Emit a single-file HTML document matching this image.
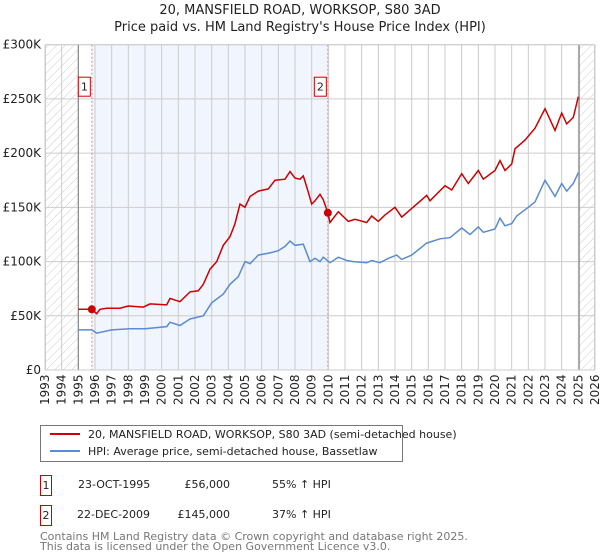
<!DOCTYPE html>
<html><head><meta charset="utf-8"><style>
body{margin:0;background:#fff;font-family:"DejaVu Sans","Liberation Sans",sans-serif;}
svg{display:block}
</style></head><body>
<svg id="c" width="600" height="560" xmlns="http://www.w3.org/2000/svg" font-family="DejaVu Sans, Liberation Sans, sans-serif">
<defs><pattern id="hatch" width="6" height="6" patternUnits="userSpaceOnUse" patternTransform="rotate(45)"><line x1="0" y1="0" x2="0" y2="6" stroke="#ccc" stroke-width="1"/></pattern></defs>
<text x="300" y="14" text-anchor="middle" font-size="13" fill="#222">20, MANSFIELD ROAD, WORKSOP, S80 3AD</text>
<text x="300" y="31" text-anchor="middle" font-size="13" fill="#222">Price paid vs. HM Land Registry's House Price Index (HPI)</text>
<g id="plot"></g>
<g>
<rect x="40.5" y="425.5" width="362" height="36" fill="#fff" stroke="#777"/>
<line x1="50" y1="434" x2="80" y2="434" stroke="#cc0000" stroke-width="2"/>
<text x="88" y="438" font-size="11" fill="#222">20, MANSFIELD ROAD, WORKSOP, S80 3AD (semi-detached house)</text>
<line x1="50" y1="451" x2="80" y2="451" stroke="#5b8bd0" stroke-width="2"/>
<text x="88" y="455" font-size="11" fill="#222">HPI: Average price, semi-detached house, Bassetlaw</text>
</g>
<g font-size="11" fill="#222">
<rect x="40.5" y="475.5" width="11" height="20" fill="#fff" stroke="#cc0000"/>
<text x="46" y="489" text-anchor="middle">1</text>
<text x="78" y="488">23-OCT-1995</text>
<text x="230" y="488" text-anchor="end">£56,000</text>
<text x="272" y="488">55% ↑ HPI</text>
<rect x="40.5" y="505.5" width="11" height="20" fill="#fff" stroke="#cc0000"/>
<text x="46" y="519" text-anchor="middle">2</text>
<text x="77" y="518">22-DEC-2009</text>
<text x="230" y="518" text-anchor="end">£145,000</text>
<text x="272" y="518">37% ↑ HPI</text>
</g>
<text x="40" y="540" font-size="11" fill="#777">Contains HM Land Registry data © Crown copyright and database right 2025.</text>
<text x="40" y="550" font-size="11" fill="#777">This data is licensed under the Open Government Licence v3.0.</text>
</svg>
<script>
const yTicks=[0,50,100,150,200,250,300];
const yTickLabels=["£0","£50K","£100K","£150K","£200K","£250K","£300K"];
const xYears=[1993,1994,1995,1996,1997,1998,1999,2000,2001,2002,2003,2004,2005,2006,2007,2008,2009,2010,2011,2012,2013,2014,2015,2016,2017,2018,2019,2020,2021,2022,2023,2024,2025,2026];
const redYears=[1995.0,1995.81,1996.1,1996.3,1996.7,1997.5,1998.0,1998.9,1999.3,2000.3,2000.5,2001.1,2001.7,2002.2,2002.5,2002.9,2003.3,2003.7,2004.1,2004.4,2004.7,2005.0,2005.3,2005.8,2006.4,2006.8,2007.4,2007.7,2008.0,2008.3,2008.5,2008.8,2009.0,2009.2,2009.5,2009.7,2009.97,2010.1,2010.6,2011.2,2011.6,2012.3,2012.6,2013.0,2013.4,2014.0,2014.4,2015.0,2015.9,2016.1,2017.0,2017.4,2018.0,2018.4,2019.0,2019.3,2020.0,2020.3,2020.6,2021.0,2021.2,2021.8,2022.4,2023.0,2023.6,2024.0,2024.3,2024.7,2025.0];
const redValues=[56,56,52,56,57,57,59,58,61,60,66,63,72,73,79,93,100,115,123,135,153,150,160,165,167,175,176,183,177,176,179,164,153,156,162,157,145,136,146,137,139,136,142,137,143,150,141,149,161,156,170,166,181,172,184,176,184,193,184,190,204,212,223,241,221,237,227,233,252];
const hpiYears=[1995.0,1995.8,1996.1,1997.0,1998.0,1999.0,2000.3,2000.5,2001.1,2001.7,2002.5,2003.0,2003.7,2004.1,2004.6,2005.0,2005.3,2005.8,2006.5,2007.0,2007.4,2007.7,2008.0,2008.5,2008.9,2009.2,2009.5,2009.7,2010.1,2010.6,2011.1,2011.5,2012.3,2012.6,2013.1,2013.6,2014.1,2014.4,2015.0,2015.9,2016.7,2017.3,2018.0,2018.5,2019.0,2019.3,2020.0,2020.3,2020.6,2021.0,2021.3,2022.0,2022.4,2023.0,2023.6,2024.0,2024.3,2024.7,2025.0];
const hpiValues=[37,37,34,37,38,38,40,44,41,47,50,62,70,79,86,100,98,106,108,110,114,119,115,116,100,103,100,104,99,104,101,100,99,101,99,103,106,102,106,117,121,122,131,125,132,127,130,140,133,135,142,150,155,175,160,172,165,172,182];
const saleYears=[1995.81,2009.97];
const saleValues=[56,145];
const saleLabels=["1","2"];

const NS="http://www.w3.org/2000/svg";
const L=45,R=595,T=44.7,B=370;
const xS=y=>L+(y-1993)/(2026-1993)*(R-L);
const yS=v=>B-v/300*(B-T);
const g=document.getElementById('plot');
function el(t,a){const e=document.createElementNS(NS,t);for(const k in a)e.setAttribute(k,a[k]);g.appendChild(e);return e;}
let e;
e=el('rect',{x:L,y:T,width:R-L,height:B-T,fill:'#fff'});


e=el('rect',{x:L,y:T,width:xS(1995)-L,height:B-T,fill:'url(#hatch)'});


e=el('rect',{x:xS(2025.05),y:T,width:R-xS(2025.05),height:B-T,fill:'url(#hatch)'});


e=el('rect',{x:xS(saleYears[0]),y:T,width:xS(saleYears[1])-xS(saleYears[0]),height:B-T,fill:'#eef2fc',opacity:0.8});


xYears.forEach(yr=>{
  const x=xS(yr);
  e=el('line',{x1:x,x2:x,y1:T,y2:B,stroke:'#ccc','stroke-width':1});
  
  
  e=el('text',{x:0,y:0,'font-size':12,fill:'#222',transform:`translate(${x+4},${B+35}) rotate(-90)`});
  e.textContent=yr;
  
  
});
yTicks.forEach((v,i)=>{
  const y=yS(v);
  e=el('line',{x1:L,x2:R,y1:y,y2:y,stroke:'#ccc','stroke-width':1});
  
  
  e=el('text',{x:L-4,y:y+4,'text-anchor':'end','font-size':12,fill:'#222'});
  e.textContent=yTickLabels[i];
  
  
});
[1995,2025.05].forEach(yr=>{
  e=el('line',{x1:xS(yr),x2:xS(yr),y1:T,y2:B,stroke:'#888','stroke-width':1.2});
  
  
});
saleYears.forEach((yr,i)=>{
  const x=xS(yr);
  e=el('line',{x1:x,x2:x,y1:T,y2:B,stroke:'#f08080','stroke-width':1,'stroke-dasharray':'2,2'});
  
  
  e=el('rect',{x:x-13.5,y:T+32.5,width:12,height:19,fill:'#fff',stroke:'#cc0000'});
  
  
  e=el('text',{x:x-7.5,y:T+46,'text-anchor':'middle','font-size':11,fill:'#222'});
  e.textContent=saleLabels[i];
  
  
});
function path(xs,vs){return xs.map((yr,i)=>(i?'L':'M')+xS(yr).toFixed(1)+','+yS(vs[i]).toFixed(1)).join('');}
e=el('path',{d:path(hpiYears,hpiValues),fill:'none',stroke:'#5b8bd0','stroke-width':1.5});


e=el('path',{d:path(redYears,redValues),fill:'none',stroke:'#cc0000','stroke-width':1.5});


saleYears.forEach((yr,i)=>{
  e=el('circle',{cx:xS(yr),cy:yS(saleValues[i]),r:4,fill:'#cc0000'});
  
  
});
e=el('rect',{x:L+0.5,y:T,width:R-L-1,height:B-T,fill:'none',stroke:'#ccc'});


</script>
</body></html>
